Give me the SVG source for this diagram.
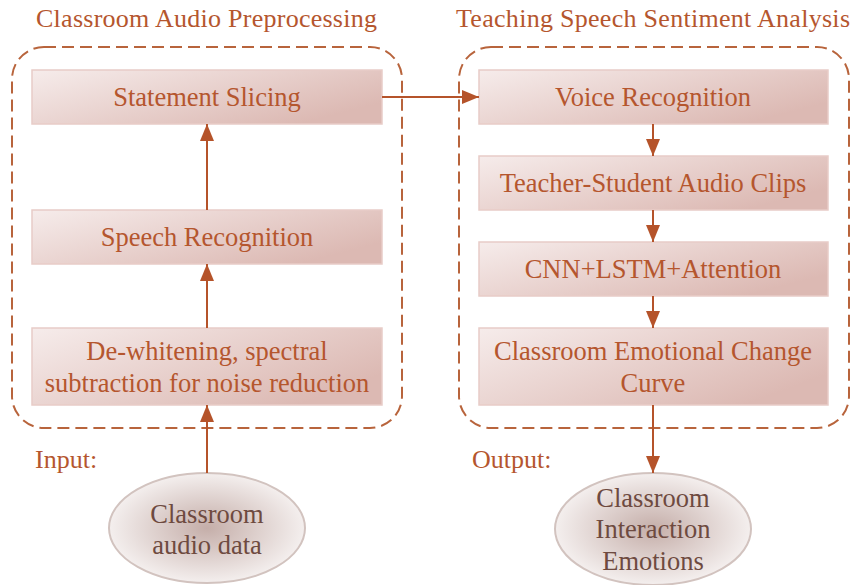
<svg xmlns="http://www.w3.org/2000/svg" width="856" height="585" viewBox="0 0 856 585">
  <defs>
    <linearGradient id="boxFill" x1="0" y1="0" x2="1" y2="0.6">
      <stop offset="0" stop-color="#f6eceb"/>
      <stop offset="1" stop-color="#dcb9b3"/>
    </linearGradient>
    <radialGradient id="ovalFill" cx="0.5" cy="0.5" r="0.5">
      <stop offset="0" stop-color="#c5aea9"/>
      <stop offset="1" stop-color="#f4efee"/>
    </radialGradient>
    <marker id="arrow" viewBox="0 0 17 14" refX="17" refY="7" markerWidth="8.5" markerHeight="7" orient="auto" markerUnits="strokeWidth">
      <path d="M0,0 L17,7 L0,14 Z" fill="#b5532a"/>
    </marker>
  </defs>
  <style>
    .title { font-family: "Liberation Serif", "Times New Roman", serif; font-size: 26px; fill: #b5562e; }
    .label { font-family: "Liberation Serif", "Times New Roman", serif; font-size: 26.5px; fill: #b5562e; text-anchor: middle; }
    .oval-label { font-family: "Liberation Serif", "Times New Roman", serif; font-size: 26.5px; fill: #6e4a40; text-anchor: middle; }
    .group-frame { fill: none; stroke: #b8643c; stroke-width: 2; stroke-dasharray: 12 6; }
    .box { fill: url(#boxFill); stroke: #e8ccc7; stroke-width: 1.5; }
    .oval { fill: url(#ovalFill); stroke: #d2c3bf; stroke-width: 2; }
    .link { fill: none; stroke: #b5532a; stroke-width: 2; marker-end: url(#arrow); }
  </style>

  <!-- stage frames -->
  <g id="preprocessing-stage">
    <rect class="group-frame" x="12" y="47" width="390" height="381" rx="32" ry="32"/>
    <text class="title" x="36" y="27" textLength="341" lengthAdjust="spacing">Classroom Audio Preprocessing</text>
  </g>
  <g id="sentiment-stage">
    <rect class="group-frame" x="459" y="47" width="390" height="381" rx="32" ry="32"/>
    <text class="title" x="456" y="27" textLength="394" lengthAdjust="spacing">Teaching Speech Sentiment Analysis</text>
  </g>

  <!-- left column -->
  <g id="statement-slicing">
    <rect class="box" x="32" y="70" width="350" height="54"/>
    <text class="label" x="207" y="106">Statement Slicing</text>
  </g>
  <g id="speech-recognition">
    <rect class="box" x="32" y="210" width="350" height="54"/>
    <text class="label" x="207" y="246">Speech Recognition</text>
  </g>
  <g id="noise-reduction">
    <rect class="box" x="32" y="328" width="350" height="77"/>
    <text class="label" x="207" y="360">De-whitening, spectral</text>
    <text class="label" x="207" y="392">subtraction for noise reduction</text>
  </g>

  <!-- right column -->
  <g id="voice-recognition">
    <rect class="box" x="479" y="70" width="349" height="54"/>
    <text class="label" x="653" y="106">Voice Recognition</text>
  </g>
  <g id="audio-clips">
    <rect class="box" x="479" y="156" width="349" height="54"/>
    <text class="label" x="653" y="192">Teacher-Student Audio Clips</text>
  </g>
  <g id="cnn-lstm-attention">
    <rect class="box" x="479" y="242" width="349" height="54"/>
    <text class="label" x="653" y="278">CNN+LSTM+Attention</text>
  </g>
  <g id="emotion-curve">
    <rect class="box" x="479" y="328" width="349" height="77"/>
    <text class="label" x="653" y="360">Classroom Emotional Change</text>
    <text class="label" x="653" y="392">Curve</text>
  </g>

  <!-- input / output -->
  <g id="input">
    <text class="title" x="35" y="468">Input:</text>
    <ellipse class="oval" cx="207" cy="528" rx="98" ry="55"/>
    <text class="oval-label" x="207" y="523">Classroom</text>
    <text class="oval-label" x="207" y="554">audio data</text>
  </g>
  <g id="output">
    <text class="title" x="472" y="468">Output:</text>
    <ellipse class="oval" cx="653" cy="529" rx="98" ry="56"/>
    <text class="oval-label" x="653" y="507">Classroom</text>
    <text class="oval-label" x="653" y="538">Interaction</text>
    <text class="oval-label" x="653" y="570">Emotions</text>
  </g>

  <!-- connectors -->
  <g id="connectors">
    <line class="link" x1="207" y1="473" x2="207" y2="405"/>
    <line class="link" x1="207" y1="328" x2="207" y2="264"/>
    <line class="link" x1="207" y1="210" x2="207" y2="124"/>
    <line class="link" x1="382" y1="97" x2="479" y2="97"/>
    <line class="link" x1="653" y1="124" x2="653" y2="156"/>
    <line class="link" x1="653" y1="210" x2="653" y2="242"/>
    <line class="link" x1="653" y1="296" x2="653" y2="328"/>
    <line class="link" x1="653" y1="405" x2="653" y2="473"/>
  </g>
</svg>
